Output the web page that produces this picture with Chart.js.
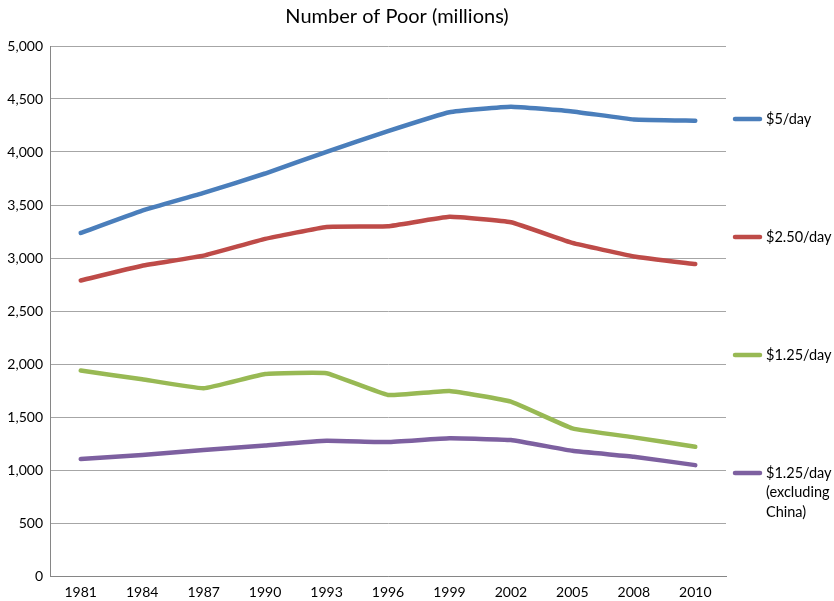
<!DOCTYPE html>
<html>
<head>
<meta charset="utf-8">
<script src="https://cdn.jsdelivr.net/npm/chart.js@4"></script>
<style>
html,body{margin:0;padding:0;background:#fff;}
#wrap{position:relative;width:834px;height:601px;}
</style>
</head>
<body>
<div id="wrap"><canvas id="c" width="834" height="601"></canvas></div>
<script>
const years = ["1981","1984","1987","1990","1993","1996","1999","2002","2005","2008","2010"];
const fiveDollar = [3236, 3447, 3614, 3797, 4002, 4197, 4375, 4427, 4383, 4307, 4295];
const twoFifty = [2788, 2927, 3022, 3180, 3293, 3299, 3388, 3337, 3142, 3015, 2943];
const oneTwentyFive = [1938, 1856, 1771, 1906, 1913, 1708, 1746, 1645, 1393, 1308, 1219];
const oneTwentyFiveExChina = [1103, 1141, 1188, 1232, 1276, 1264, 1299, 1283, 1181, 1125, 1046];
const seriesNames = ["$5/day", "$2.50/day", "$1.25/day", "$1.25/day\n(excluding\nChina)"];
const seriesColors = ["#4a7ebb", "#be4b48", "#98b954", "#7d60a0"];
const yTicks = [0, 500, 1000, 1500, 2000, 2500, 3000, 3500, 4000, 4500, 5000];
const chartTitle = "Number of Poor (millions)";

const FONT = "Lato, 'Open Sans', sans-serif";

const overlay = {
  id: 'overlay',
  afterDraw(chart) {
    const ctx = chart.ctx;
    ctx.save();
    ctx.fillStyle = '#000';
    ctx.font = "20px " + FONT;
    ctx.textAlign = 'center';
    ctx.textBaseline = 'middle';
    ctx.fillText(chartTitle, 397, 17);
    const legendY = [119, 237, 355, 473];
    ctx.font = "14.5px " + FONT;
    ctx.textAlign = 'left';
    chart.data.datasets.forEach((ds, i) => {
      const y = legendY[i];
      ctx.strokeStyle = ds.borderColor;
      ctx.lineWidth = 4.5;
      ctx.lineCap = 'round';
      ctx.beginPath();
      ctx.moveTo(735, y);
      ctx.lineTo(760, y);
      ctx.stroke();
      const lines = ds.label.split("\n");
      lines.forEach((t, k) => {
        ctx.fillStyle = '#000';
        ctx.fillText(t, 766, y + k * 19.5);
      });
    });
    ctx.restore();
  }
};

new Chart(document.getElementById('c'), {
  type: 'line',
  data: {
    labels: years,
    datasets: [fiveDollar, twoFifty, oneTwentyFive, oneTwentyFiveExChina].map((d, i) => ({
      label: seriesNames[i],
      data: d,
      borderColor: seriesColors[i],
      backgroundColor: seriesColors[i],
      borderWidth: 4.5,
      pointRadius: 0,
      tension: 0.1,
      borderCapStyle: 'round',
      borderJoinStyle: 'round',
      fill: false
    }))
  },
  options: {
    responsive: false,
    animation: false,
    devicePixelRatio: 1,
    layout: { padding: { top: 46, right: 108, left: 0, bottom: 0 } },
    plugins: { legend: { display: false }, title: { display: false }, tooltip: { enabled: false } },
    scales: {
      x: {
        offset: true,
        grid: { display: false, drawTicks: false },
        border: { display: true, color: '#868686', width: 1 },
        ticks: { color: '#000', font: { family: FONT, size: 14 }, padding: 8, maxRotation: 0 },
        afterFit(s) { s.height = 25; }
      },
      y: {
        min: 0, max: 5000,
        afterBuildTicks(s) { s.ticks = yTicks.map(v => ({ value: v })); },
        grid: { color: '#a6a6a6', lineWidth: 1, drawTicks: false },
        border: { display: true, color: '#868686', width: 1 },
        ticks: {
          color: '#000', font: { family: FONT, size: 14 }, padding: 7,
          callback: v => v.toLocaleString('en-US')
        },
        afterFit(s) { s.width = 50; }
      }
    }
  },
  plugins: [overlay]
});
</script>
</body>
</html>
